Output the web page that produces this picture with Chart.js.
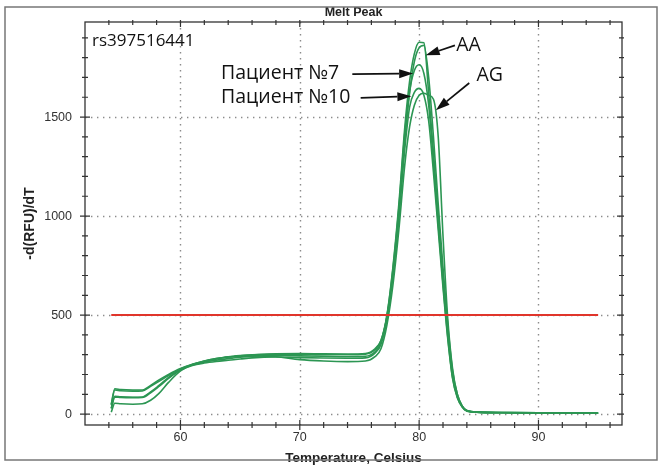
<!DOCTYPE html>
<html>
<head>
<meta charset="utf-8">
<script src="https://cdn.jsdelivr.net/npm/chart.js@4.4.1/dist/chart.umd.min.js"></script>
<style>
  html, body { margin: 0; padding: 0; background: #ffffff; }
  #wrap { width: 658px; height: 469px; position: relative; }
</style>
</head>
<body>
<div id="wrap"><canvas id="c" width="658" height="469"></canvas></div>
<script>
// ---- data ----
const temps = [54.2, 54.5, 55, 56, 56.8, 57.5, 58.2, 59, 60, 61, 62, 63, 64, 65, 66, 68, 70, 72, 74, 75.5, 76.3, 76.8, 77.3, 77.8, 78.3, 78.8, 79.2, 79.6, 80, 80.4, 80.8, 81.2, 81.6, 82, 82.4, 82.8, 83.2, 83.6, 84, 85, 87, 90, 93, 95];
const aa1 = [50, 128, 124, 122, 122, 145, 172, 200, 230, 252, 268, 280, 290, 296, 300, 302, 303, 300, 300, 303, 325, 370, 500, 740, 1060, 1450, 1680, 1820, 1878, 1875, 1620, 1320, 1000, 700, 420, 200, 90, 40, 18, 10, 8, 6, 5, 5];
const aa2 = [45, 122, 118, 116, 117, 140, 165, 195, 228, 250, 266, 278, 288, 294, 298, 305, 306, 304, 303, 306, 330, 372, 490, 700, 1000, 1380, 1620, 1780, 1850, 1862, 1700, 1400, 1060, 740, 450, 220, 100, 42, 18, 10, 8, 6, 5, 5];
const patient7 = [30, 90, 87, 85, 86, 112, 145, 185, 225, 248, 262, 272, 280, 287, 292, 296, 294, 292, 290, 292, 315, 362, 495, 730, 1040, 1420, 1630, 1735, 1764, 1720, 1560, 1270, 960, 660, 390, 185, 85, 38, 16, 9, 7, 6, 5, 5];
const patient10 = [28, 86, 84, 83, 84, 108, 140, 180, 222, 246, 258, 266, 272, 278, 284, 288, 285, 283, 282, 284, 308, 352, 480, 700, 990, 1340, 1550, 1625, 1645, 1610, 1480, 1220, 930, 640, 380, 180, 82, 36, 15, 9, 7, 6, 5, 5];
const ag = [10, 55, 52, 50, 52, 70, 105, 160, 218, 250, 268, 280, 288, 292, 294, 290, 275, 268, 265, 268, 290, 330, 450, 650, 930, 1260, 1450, 1560, 1610, 1620, 1610, 1590, 1400, 900, 480, 230, 100, 42, 17, 10, 8, 6, 5, 5];
const thresholdX = [54.2, 95];
const thresholdY = [500, 500];

const xTickValues = [60, 70, 80, 90];
const yTickValues = [0, 500, 1000, 1500];
const xMinorTicks = [54, 56, 58, 62, 64, 66, 68, 72, 74, 76, 78, 82, 84, 86, 88, 92, 94, 96];
const yMinorTicks = [100, 200, 300, 400, 600, 700, 800, 900, 1100, 1200, 1300, 1400, 1600, 1700, 1800, 1900];

const chartTitle = 'Melt Peak';
const xTitle = 'Temperature, Celsius';
const yTitle = '-d(RFU)/dT';
const sampleLabel = 'rs397516441';
// text labels anchored in data units: [text, x, y]
const textLabels = [
  ['Пациент №7', 63.4, 1720],
  ['Пациент №10', 63.4, 1598],
  ['AA', 83.1, 1860],
  ['AG', 84.8, 1708]
];
// arrows in data units: [fromX, fromY, toX, toY]
const arrows = [
  [74.4, 1717, 79.5, 1720],
  [75.1, 1597, 79.35, 1605],
  [83.0, 1862, 80.55, 1812],
  [84.2, 1672, 81.4, 1535]
];

const green = '#2c9653';
function series(vals) { return temps.map((t, i) => ({x: t, y: vals[i]})); }

const gridPlugin = {
  id: 'dottedGrid',
  beforeDatasetsDraw(chart) {
    const ctx = chart.ctx;
    const xs = chart.scales.x, ys = chart.scales.y;
    const a = chart.chartArea;
    ctx.save();
    ctx.strokeStyle = '#8c8c8c';
    ctx.lineWidth = 1.4;
    ctx.setLineDash([1.4, 4.6]);
    ctx.beginPath();
    xTickValues.forEach(v => {
      const px = Math.round(xs.getPixelForValue(v)) + 0.5;
      ctx.moveTo(px, a.top); ctx.lineTo(px, a.bottom);
    });
    yTickValues.forEach(v => {
      const py = Math.round(ys.getPixelForValue(v)) + 0.5;
      ctx.moveTo(a.left, py); ctx.lineTo(a.right, py);
    });
    ctx.stroke();
    ctx.restore();
  }
};

const overlay = {
  id: 'overlay',
  afterDatasetsDraw(chart) {
    const ctx = chart.ctx;
    const xs = chart.scales.x, ys = chart.scales.y;
    const a = chart.chartArea;
    ctx.save();
    // outer frame
    ctx.strokeStyle = '#777';
    ctx.lineWidth = 1.5;
    ctx.strokeRect(5, 7, 652, 453);
    // plot frame
    ctx.strokeStyle = '#333';
    ctx.lineWidth = 1.3;
    ctx.strokeRect(a.left, a.top, a.right - a.left, a.bottom - a.top);
    // ticks
    ctx.lineWidth = 1.2;
    ctx.beginPath();
    xTickValues.concat(xMinorTicks).forEach(v => {
      const L = xTickValues.includes(v) ? 5 : 3;
      const px = xs.getPixelForValue(v);
      ctx.moveTo(px, a.bottom - L); ctx.lineTo(px, a.bottom + L);
      ctx.moveTo(px, a.top - 2); ctx.lineTo(px, a.top + L);
    });
    yTickValues.concat(yMinorTicks).forEach(v => {
      const L = yTickValues.includes(v) ? 5 : 3;
      const py = ys.getPixelForValue(v);
      ctx.moveTo(a.left - L, py); ctx.lineTo(a.left + L, py);
      ctx.moveTo(a.right - L, py); ctx.lineTo(a.right + 2, py);
    });
    ctx.stroke();
    // sample label
    ctx.fillStyle = '#111';
    ctx.font = '17px "Open Sans"';
    ctx.textBaseline = 'middle';
    ctx.textAlign = 'left';
    ctx.fillText(sampleLabel, a.left + 7, a.top + 19);
    // labels
    ctx.font = '19.5px "Open Sans"';
    textLabels.forEach(([t, x, y]) => {
      ctx.fillText(t, xs.getPixelForValue(x), ys.getPixelForValue(y));
    });
    // arrows
    ctx.strokeStyle = '#111';
    ctx.fillStyle = '#111';
    ctx.lineWidth = 1.7;
    arrows.forEach(([x1, y1, x2, y2]) => {
      const p1x = xs.getPixelForValue(x1), p1y = ys.getPixelForValue(y1);
      const p2x = xs.getPixelForValue(x2), p2y = ys.getPixelForValue(y2);
      const ang = Math.atan2(p2y - p1y, p2x - p1x);
      const hl = 14, hw = 4.5;
      const bx = p2x - hl * Math.cos(ang), by = p2y - hl * Math.sin(ang);
      ctx.beginPath();
      ctx.moveTo(p1x, p1y); ctx.lineTo(bx, by);
      ctx.stroke();
      ctx.beginPath();
      ctx.moveTo(p2x, p2y);
      ctx.lineTo(bx + hw * Math.sin(ang), by - hw * Math.cos(ang));
      ctx.lineTo(bx - hw * Math.sin(ang), by + hw * Math.cos(ang));
      ctx.closePath();
      ctx.fill();
    });
    ctx.restore();
  }
};

const lineDs = (label, vals) => ({
  label, data: series(vals), borderColor: green, borderWidth: 1.6,
  pointRadius: 0, cubicInterpolationMode: 'monotone', fill: false
});

new Chart(document.getElementById('c'), {
  type: 'line',
  data: {
    datasets: [
      {
        label: 'threshold',
        data: thresholdX.map((x, i) => ({x, y: thresholdY[i]})),
        borderColor: '#e0352b', borderWidth: 2, pointRadius: 0, fill: false
      },
      lineDs('AA', aa1),
      lineDs('AA 2', aa2),
      lineDs('Пациент №7', patient7),
      lineDs('Пациент №10', patient10),
      lineDs('AG', ag)
    ]
  },
  plugins: [gridPlugin, overlay],
  options: {
    responsive: false,
    animation: false,
    devicePixelRatio: 1,
    layout: { padding: { left: 0, right: 36, top: 0, bottom: 0 } },
    plugins: {
      legend: { display: false },
      tooltip: { enabled: false },
      title: {
        display: true, text: chartTitle, fullSize: false,
        color: '#222', font: { family: 'Liberation Sans', size: 12.5, weight: 'bold' },
        padding: { top: 5, bottom: 2 }
      }
    },
    scales: {
      x: {
        type: 'linear', min: 52, max: 97,
        afterBuildTicks(s) { s.ticks = xTickValues.map(v => ({value: v})); },
        afterFit(s) { s.height = 44; },
        grid: { display: false, drawTicks: false, tickLength: 0 },
        border: { display: false },
        ticks: { padding: 5, color: '#333', font: { family: 'Liberation Sans', size: 12.5 },
                 callback: v => String(v) },
        title: {
          display: true, text: xTitle, color: '#222',
          font: { family: 'Liberation Sans', size: 13.5, weight: 'bold' },
          padding: { top: 0, bottom: 3 }
        }
      },
      y: {
        type: 'linear', min: -55, max: 1980,
        afterBuildTicks(s) { s.ticks = yTickValues.map(v => ({value: v})); },
        afterFit(s) { s.width = 85; },
        grid: { display: false, drawTicks: false, tickLength: 0 },
        border: { display: false },
        ticks: { padding: 13, color: '#333', font: { family: 'Liberation Sans', size: 12.5 },
                 callback: v => String(v) },
        title: {
          display: true, text: yTitle, color: '#222',
          font: { family: 'Liberation Sans', size: 14, weight: 'bold' },
          padding: { top: 22, bottom: 0 }
        }
      }
    }
  }
});
</script>
</body>
</html>
